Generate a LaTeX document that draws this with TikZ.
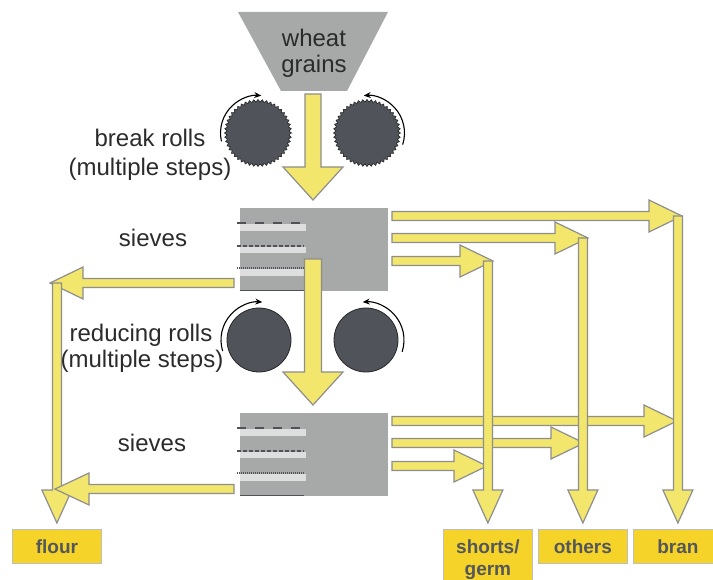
\documentclass[tikz,border=0pt]{standalone}
\usepackage{fontspec}
\setmainfont{Liberation Sans}
\usepackage{xcolor}
\usetikzlibrary{calc}
\usetikzlibrary{arrows.meta}

\definecolor{hopgray}{HTML}{A6A9A7}
\definecolor{stripegray}{HTML}{DDDEDD}
\definecolor{meshgray}{HTML}{4F5256}
\definecolor{flowyellow}{HTML}{F2E66C}
\definecolor{flowedge}{HTML}{8E8E8E}
\definecolor{outyellow}{HTML}{F5D329}
\definecolor{outedge}{HTML}{BFBFBF}
\definecolor{outtext}{HTML}{53575C}
\definecolor{rollgray}{HTML}{50545A}
\definecolor{inktext}{HTML}{2B2B2B}

\tikzset{
  lbl/.style={font=\fontsize{24}{28}\selectfont, text=inktext, inner sep=0pt, anchor=base},
  flow/.style={fill=flowyellow, draw=flowedge, line width=1.2pt},
  sievebox/.style={fill=hopgray, minimum width=148, minimum height=83, inner sep=0pt, anchor=north west},
  outbox/.style={fill=outyellow, draw=outedge, line width=0.8pt, minimum width=89, minimum height=34,
    inner sep=0pt, anchor=north west, font=\fontsize{19}{22}\selectfont\bfseries, text=outtext, align=center},
  roll/.style={fill=rollgray, draw=black!85, line width=0.8pt},
  spin/.style={-{Stealth[length=7pt,width=6pt]}, line width=1.1pt},
  mesh/.style={draw=meshgray, line width=1.5pt},
}

% fat arrow: from, to, half shaft, half head, head length
\newcommand{\fatarrow}[5]{%
  \coordinate (fa) at ($(#2)!#5!(#1)$);
  \draw[flow] ($(#1)!#3!-90:(#2)$) -- ($(fa)!#3!90:(#1)$) -- ($(fa)!#4!90:(#1)$) -- (#2)
    -- ($(fa)!#4!-90:(#1)$) -- ($(fa)!#3!-90:(#1)$) -- ($(#1)!#3!90:(#2)$) -- cycle;
}
% toothed roll
\newcommand{\gear}[1]{%
  \draw[roll, line width=0.6pt] ($(#1)+(0:33)$)
    \foreach \t in {1,...,48}{ -- ($(#1)+({\t*7.5-3.75}:31)$) -- ($(#1)+({\t*7.5}:33.5)$) } -- cycle;
}

\begin{document}
\begin{tikzpicture}[x=1pt, y=-1pt]
\useasboundingbox (0,0) rectangle (713,580);

% hopper
\fill[hopgray] (238,12) -- (388,12) -- (347,91) -- (281,91) -- cycle;
\node[lbl] (wheat) at (314,47) {wheat};
\node[lbl] (grains) at (314,73) {grains};

% break rolls
\coordinate (brl) at (258,133);
\coordinate (brr) at (367,133);
\gear{brl}
\gear{brr}
\draw[spin] (brl) ++(167:37.5) arc[start angle=167, end angle=275, radius=37.5];
\draw[spin] (brr) ++(18:37.5) arc[start angle=18, end angle=-95, radius=37.5];
\node[lbl] (brk1) at (150,147) {break rolls};
\node[lbl] (brk2) at (150,176) {(multiple steps)};

\coordinate (in1) at (313,94);
\coordinate (in1e) at (313,200);
\fatarrow{in1}{in1e}{8pt}{30pt}{33pt}

% sieves
\node[sievebox] (sv1) at (240,208) {};
\node[sievebox] (sv2) at (240,413) {};
\foreach \s in {sv1,sv2}{
  \begin{scope}[shift={(\s.north west)}]
    \fill[stripegray] (0,16) rectangle (66,23);
    \fill[stripegray] (0,39) rectangle (66,45);
    \fill[stripegray] (0,61) rectangle (66,68);
    \draw[mesh, dash pattern=on 8.5pt off 9.5pt] (-3,15) -- (64,15);
    \draw[mesh, dash pattern=on 3.5pt off 2.5pt] (-3,38) -- (64,38);
    \draw[mesh, line width=1.2pt, dash pattern=on 1pt off 1pt] (-3,60) -- (64,60);
    \draw[mesh] (0,82.5) -- (64,82.5);
  \end{scope}
}
\node[lbl] (sieve1) at (153,247) {sieves};
\node[lbl] (sieve2) at (152,451) {sieves};

\coordinate (in2) at (313,259);
\coordinate (in2e) at (313,405);
\fatarrow{in2}{in2e}{8.5pt}{30pt}{33pt}

% reducing rolls
\coordinate (rdl) at (259,340);
\coordinate (rdr) at (366,340);
\draw[roll] (rdl) circle[radius=32];
\draw[roll] (rdr) circle[radius=32];
\draw[spin] (rdl) ++(163:38) arc[start angle=163, end angle=275, radius=38];
\draw[spin] (rdr) ++(18:38) arc[start angle=18, end angle=-95, radius=38];
\node[lbl] (red1) at (141,342) {reducing rolls};
\node[lbl] (red2) at (142,368) {(multiple steps)};

% products
\node[outbox] (flour) at (12,529) {flour};
\node[outbox, minimum height=60] (shorts) at (443,529) {shorts/\\germ};
\node[outbox] (others) at (538,529) {others};
\node[outbox] (bran) at (633,529) {bran};

% out of the sieves
\foreach \y/\x/\n in {216/682/tb, 238/588/to, 261/493/ts}{
  \coordinate (\n) at (\x,\y);
  \fatarrow{392,\y}{\n}{4.5pt}{16pt}{33pt}
}
\foreach \y/\x in {421/677, 443/584, 466/487}{
  \fatarrow{392,\y}{\x,\y}{4.5pt}{16pt}{33pt}
}
\foreach \t/\b in {tb/bran, to/others, ts/shorts}{
  \coordinate (top) at (\b.north |- \t);
  \coordinate (end) at ([yshift=6pt]\b.north);
  \fatarrow{top}{end}{4.5pt}{15pt}{33pt}
}

% flour
\coordinate (fl1) at (50,283);
\fatarrow{234,283}{fl1}{4.5pt}{16pt}{33pt}
\coordinate (top) at (flour.north |- fl1);
\coordinate (end) at ([yshift=6pt]flour.north);
\fatarrow{top}{end}{4.5pt}{15pt}{33pt}
\fatarrow{234,489}{55,489}{4.5pt}{16pt}{34pt}

\end{tikzpicture}
\end{document}
